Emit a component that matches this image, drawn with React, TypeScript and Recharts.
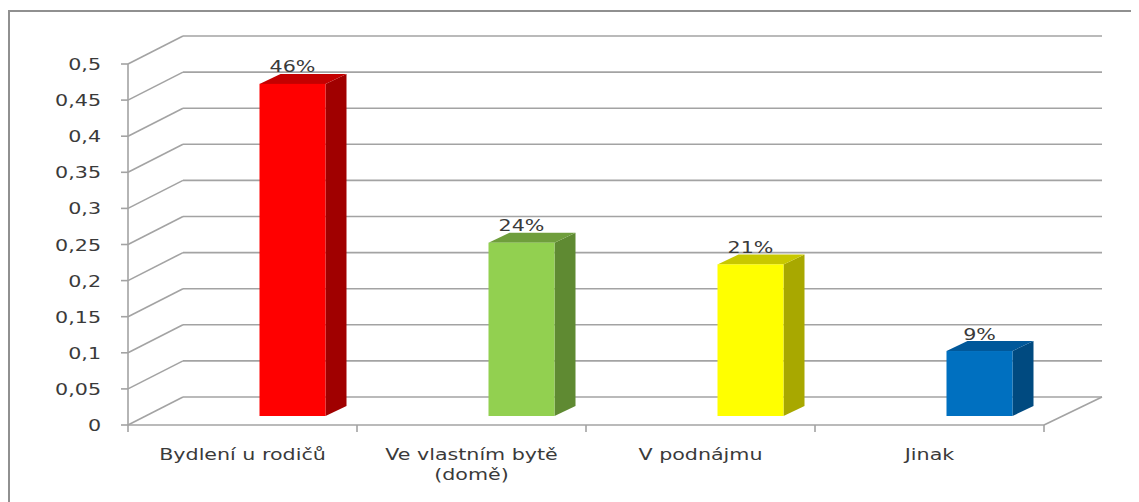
import { Bar, BarChart, CartesianGrid, LabelList, XAxis, YAxis } from 'recharts'

const categories = ['Bydlení u rodičů', 'Ve vlastním bytě (domě)', 'V podnájmu', 'Jinak']
const shares = [0.46, 0.24, 0.21, 0.09]
const shareLabels = ['46%', '24%', '21%', '9%']
const yTicks = [0, 0.05, 0.1, 0.15, 0.2, 0.25, 0.3, 0.35, 0.4, 0.45, 0.5]

const data = categories.map((name, i) => ({
  name,
  share: shares[i],
  label: shareLabels[i]
}))

// chart box and front plane of the plot
const W = 1131
const H = 494
const PLOT_LEFT = 120
const PLOT_RIGHT = 1036
const PLOT_BOTTOM = 417

// fake 3d: wall depth, where bars sit in depth, bar thickness
const WALL_DX = 55
const WALL_DY = -28
const BAR_SHIFT_X = 49.5
const BAR_SHIFT_Y = -9
const BAR_DX = 21
const BAR_DY = -10

const FONT = '"DejaVu Sans", Verdana, sans-serif'
const FONT_SIZE = 16.5
const STRETCH = 1.25
const TEXT = '#3a3a3a'
const GRID = '#a3a3a3'

const palette = [
  { front: '#ff0000', top: '#c40000', side: '#a00000' },
  { front: '#92d050', top: '#6f9e3c', side: '#5f8a32' },
  { front: '#ffff00', top: '#c8c800', side: '#a8a800' },
  { front: '#0070c0', top: '#00589a', side: '#004a80' }
]

let ctx: CanvasRenderingContext2D | null = null
function textWidth(s: string) {
  if (!ctx) {
    ctx = document.createElement('canvas').getContext('2d')
    if (ctx) ctx.font = `${FONT_SIZE}px "DejaVu Sans"`
  }
  return ctx ? ctx.measureText(s).width * STRETCH : s.length * 10
}

function wrap(label: string, maxWidth: number) {
  const lines: string[] = []
  let cur = ''
  for (const word of label.split(' ')) {
    const next = cur ? cur + ' ' + word : word
    if (cur && textWidth(next) > maxWidth) {
      lines.push(cur)
      cur = word
    } else {
      cur = next
    }
  }
  if (cur) lines.push(cur)
  return lines
}

function StretchText({ x, y, anchor, children }: any) {
  return (
    <text
      transform={`translate(${x},${y}) scale(${STRETCH},1)`}
      textAnchor={anchor}
      fontFamily={FONT}
      fontSize={FONT_SIZE}
      fill={TEXT}
    >
      {children}
    </text>
  )
}

const renderGridLine = (props: any) => {
  const { x1, y1, x2, index } = props
  const isFloor = Math.abs(y1 - PLOT_BOTTOM) < 0.5
  const backY = y1 + WALL_DY
  return (
    <g key={`grid-${index}`} stroke={GRID} strokeWidth={1.6}>
      <line x1={x1} y1={y1} x2={x1 + WALL_DX} y2={backY} />
      <line x1={x1 + WALL_DX} y1={backY} x2={x2 + WALL_DX + 3} y2={backY} />
      {isFloor && <line x1={x2} y1={y1} x2={x2 + WALL_DX + 3} y2={backY} />}
    </g>
  )
}

const ValueTick = ({ x, y, payload }: any) => (
  <g>
    <line x1={x - 7} y1={y} x2={x} y2={y} stroke={GRID} strokeWidth={1.6} />
    <StretchText x={x - 27} y={y + 6} anchor="end">
      {String(payload.value).replace('.', ',')}
    </StretchText>
  </g>
)

const CategoryTick = ({ x, y, payload }: any) => {
  const band = (PLOT_RIGHT - PLOT_LEFT) / categories.length
  const isLast = categories.indexOf(payload.value) === categories.length - 1
  const lines = wrap(payload.value, band - 15)
  return (
    <g>
      <line x1={x - band / 2} y1={y} x2={x - band / 2} y2={y + 7} stroke={GRID} strokeWidth={1.6} />
      {isLast && (
        <line x1={x + band / 2} y1={y} x2={x + band / 2} y2={y + 7} stroke={GRID} strokeWidth={1.6} />
      )}
      {lines.map((line, i) => (
        <StretchText key={i} x={x} y={y + 35 + i * 20} anchor="middle">
          {line}
        </StretchText>
      ))}
    </g>
  )
}

const BoxBar = (props: any) => {
  const { x, y, width, height, payload } = props
  const colors = palette[categories.indexOf(payload.name)]
  const l = x + BAR_SHIFT_X
  const r = l + width
  const t = y + BAR_SHIFT_Y
  const b = y + height + BAR_SHIFT_Y
  return (
    <g>
      <polygon
        points={`${r},${t} ${r + BAR_DX},${t + BAR_DY} ${r + BAR_DX},${b + BAR_DY} ${r},${b}`}
        fill={colors.side}
      />
      <polygon
        points={`${l},${t} ${l + BAR_DX},${t + BAR_DY} ${r + BAR_DX},${t + BAR_DY} ${r},${t}`}
        fill={colors.top}
      />
      <rect x={l} y={t} width={width} height={b - t} fill={colors.front} />
    </g>
  )
}

const BarLabel = (props: any) => {
  const { x, y, width, value } = props
  const cx = x + BAR_SHIFT_X + width / 2
  const top = y + BAR_SHIFT_Y
  return (
    <StretchText x={cx} y={top - 11.5} anchor="middle">
      {value}
    </StretchText>
  )
}

export default function App() {
  return (
    <div style={{ position: 'relative', width: W, height: H }}>
      <div
        style={{
          position: 'absolute',
          left: 0,
          top: 2,
          width: W,
          height: H - 2,
          boxSizing: 'border-box',
          borderTop: '2px solid #909090',
          borderLeft: '2px solid #909090',
          pointerEvents: 'none'
        }}
      />
      <BarChart
        width={W}
        height={H}
        data={data}
        margin={{ top: 56, right: 95, left: 60, bottom: 17 }}
      >
        <CartesianGrid vertical={false} horizontal={renderGridLine} />
        <XAxis
          dataKey="name"
          height={60}
          interval={0}
          tickSize={0}
          tickMargin={0}
          axisLine={{ stroke: GRID, strokeWidth: 1.6 }}
          tick={<CategoryTick />}
        />
        <YAxis
          width={60}
          domain={[0, 0.5]}
          ticks={yTicks}
          interval={0}
          tickSize={0}
          tickMargin={0}
          axisLine={{ stroke: GRID, strokeWidth: 1.6 }}
          tick={<ValueTick />}
        />
        <Bar dataKey="share" barSize={66} shape={<BoxBar />} isAnimationActive={false}>
          <LabelList dataKey="label" content={<BarLabel />} />
        </Bar>
      </BarChart>
    </div>
  )
}
